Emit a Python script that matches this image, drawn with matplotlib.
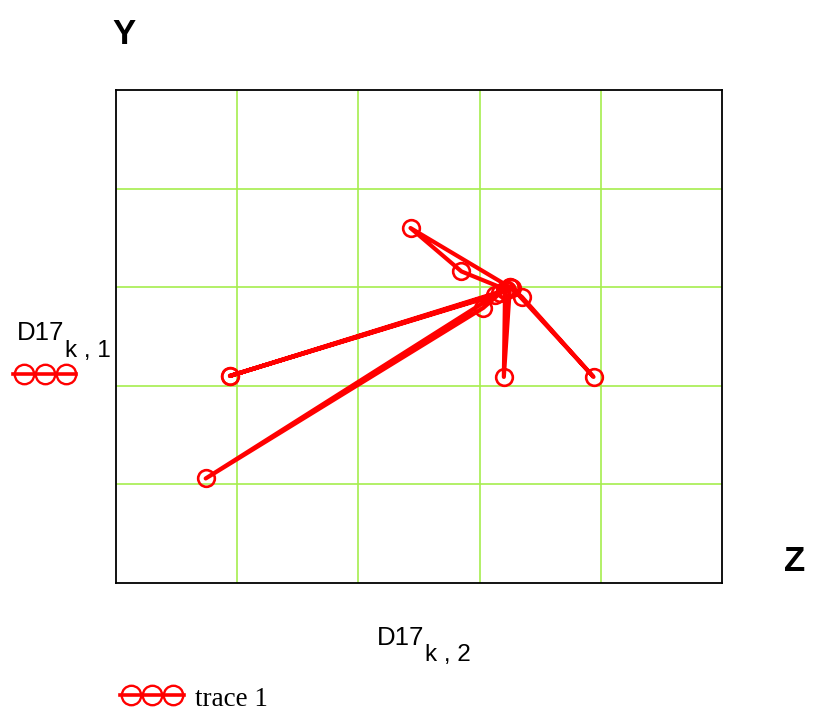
import matplotlib
matplotlib.use("Agg")
import matplotlib.pyplot as plt
from matplotlib.lines import Line2D

# trace 1 : D17 columns (col 2 -> horizontal, col 1 -> vertical), in visiting order
d17_k2 = [3.25, 2.43, 2.85, 3.23, 0.94, 3.13, 0.74, 3.03, 3.17,
          0.94, 3.21, 3.20, 3.25, 3.35, 3.94, 3.27]
d17_k1 = [3.00, 3.60, 3.16, 2.97, 2.10, 2.92, 1.06, 2.79, 2.94,
          2.10, 2.97, 2.09, 3.00, 2.90, 2.09, 2.99]

W, H = 817, 719
fig = plt.figure(figsize=(W / 100, H / 100), dpi=100)
ax = fig.add_axes([116 / W, 1 - 583 / H, (722 - 116) / W, (583 - 90) / H])

red = "#ff0000"
ax.plot(d17_k2, d17_k1, color=red, lw=3.0, marker="o", ms=12,
        mfc="none", mec=red, mew=1.9, zorder=3)

ax.set_xlim(0, 5)
ax.set_ylim(0, 5)
ax.set_xticks([1, 2, 3, 4])
ax.set_yticks([1, 2, 3, 4])
ax.tick_params(length=0, labelbottom=False, labelleft=False)
ax.grid(True, color="#a6ee4e", lw=1.2)
for s in ax.spines.values():
    s.set_linewidth(1.3)
    s.set_color("black")

sans = "Liberation Sans"


def fx(px):
    return px / W


def fy(py):
    return 1 - py / H


# axis corner letters
fig.text(fx(112), fy(44), "Y", fontsize=25, fontweight="bold", family=sans)
fig.text(fx(784), fy(571), "Z", fontsize=25, fontweight="bold", family=sans)

# left axis label D17_{k,1}
fig.text(fx(17), fy(340), "D17", fontsize=18.5, family=sans)
fig.text(fx(65), fy(357), "k , 1", fontsize=17.5, family=sans)
# bottom axis label D17_{k,2}
fig.text(fx(377), fy(645), "D17", fontsize=18.5, family=sans)
fig.text(fx(425), fy(661), "k , 2", fontsize=17.5, family=sans)

# legend swatches
for xs, y in [((13, 76), 374), ((120, 184), 695)]:
    fig.add_artist(Line2D([fx(xs[0]), fx(xs[1])], [fy(y), fy(y)],
                          transform=fig.transFigure, color=red, lw=2.6))
    n = 3
    step = (xs[1] - xs[0]) / n
    cx = [fx(xs[0] + step * (i + 0.5)) for i in range(n)]
    fig.add_artist(Line2D(cx, [fy(y)] * n, transform=fig.transFigure,
                          ls="none", marker="o", ms=14, mfc="none",
                          mec=red, mew=1.7))

fig.text(fx(195), fy(706), "trace 1", fontsize=19.5, family="Liberation Serif")

fig.savefig("out.png", dpi=100)
